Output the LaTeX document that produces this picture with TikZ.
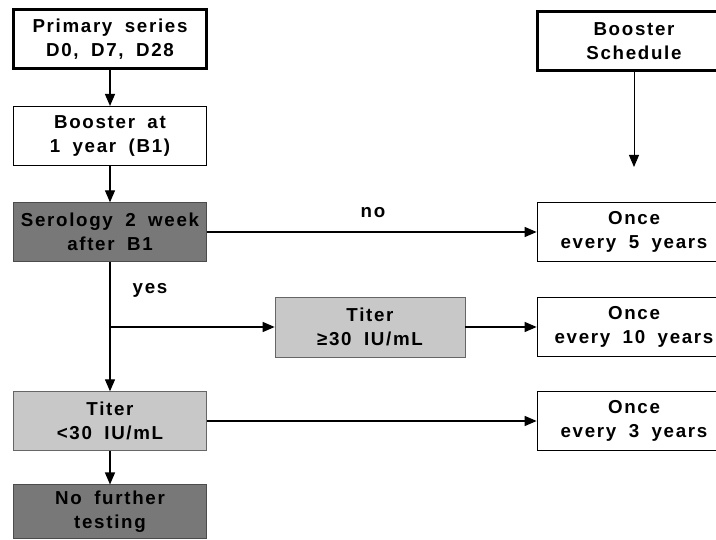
\documentclass[tikz,border=0pt]{standalone}
\usepackage{fontspec}
\setmainfont{Liberation Sans}[LetterSpace=9,WordSpace=1.8]
\usepackage{xcolor}
\definecolor{DarkScreen}{HTML}{787878}
\definecolor{LightScreen}{HTML}{C8C8C8}
\usetikzlibrary{arrows.meta}
\newcommand{\flowfont}{\fontsize{16}{20.5}\selectfont\bfseries}
\tikzset{
  flowbox/.style={
    draw=black,
    fill=white,
    line width=1.2pt,
    minimum width=5.8cm,
    minimum height=1.76cm,
    align=center,
    font=\flowfont,
    inner sep=2pt
  },
  headbox/.style={
    flowbox,
    line width=2.4pt
  },
  darkbox/.style={
    flowbox,
    draw=black!70,
    fill=DarkScreen,
    line width=0.6pt
  },
  lightbox/.style={
    flowbox,
    draw=black!60,
    fill=LightScreen,
    line width=0.6pt
  },
  flowline/.style={
    draw=black,
    line width=1.1pt,
    -{Triangle[length=3.6mm,width=3mm]}
  },
  branchlabel/.style={
    font=\flowfont
  }
}

\begin{document}
\begin{tikzpicture}[x=0.03cm,y=-0.03cm]
  \clip (0,0) rectangle (716,540);
  \node[headbox] (primary) at (110,39) {Primary series\\D0, D7, D28};
  \node[flowbox] (boost) at (110,136) {Booster at\\1 year (B1)};
  \node[darkbox] (sero) at (110,232) {Serology 2 week\\after B1};
  \node[lightbox] (low) at (110,421) {Titer\\<30 IU/mL};
  \node[darkbox, minimum height=1.6cm] (stop) at (110,511.5) {No further\\testing};
  \node[lightbox, minimum width=5.7cm, minimum height=1.8cm] (high) at (370,327) {Titer\\≥30 IU/mL};
  \node[headbox] (sched) at (634,41) {Booster\\Schedule};
  \node[flowbox] (five) at (634,232) {Once\\every 5 years};
  \node[flowbox] (ten) at (634,327) {Once\\every 10 years};
  \node[flowbox] (three) at (634,421) {Once\\every 3 years};
  \node[branchlabel] (no) at (373,213) {no};
  \node[branchlabel] (yes) at (150,290) {yes};
  \coordinate (split) at (sero.south |- high.west);
  \coordinate (schedend) at (634,167);
  % main column
  \draw[flowline] (primary) -- (boost);
  \draw[flowline] (boost) -- (sero);
  \draw[flowline] (sero) -- (low);
  \draw[flowline] (low) -- (stop);
  % branches to the schedule
  \draw[flowline] (sero) -- (five);
  \draw[flowline] (split) -- (high);
  \draw[flowline] (high) -- (ten);
  \draw[flowline] (low) -- (three);
  \draw[flowline, line width=0.8pt] (sched) -- (schedend);
\end{tikzpicture}
\end{document}
